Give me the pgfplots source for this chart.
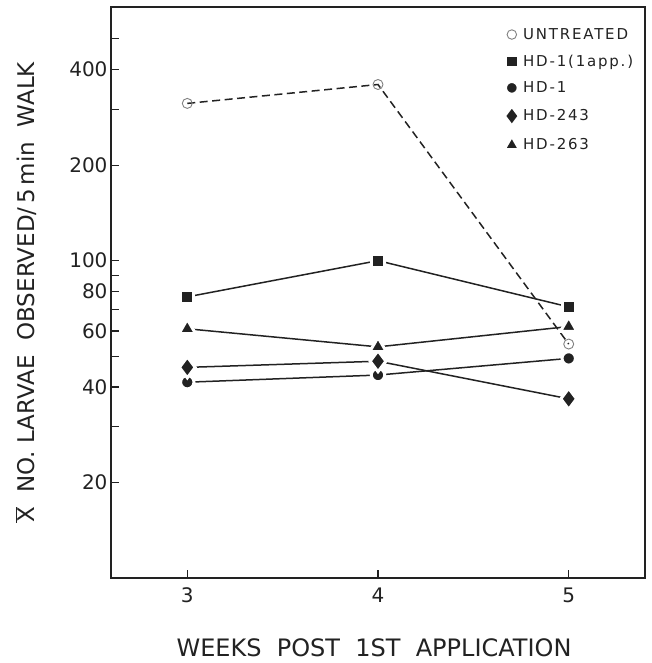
\documentclass[border=0pt]{standalone}
\usepackage{fontspec}
\setmainfont{DejaVu Sans}
\newfontfamily\legfont[LetterSpace=12]{DejaVu Sans}
\usepackage{pgfplots}
\pgfplotsset{compat=1.18}
\definecolor{ink}{HTML}{222222}

\begin{document}
\begin{tikzpicture}
\useasboundingbox (-111pt,-85pt) rectangle (541pt,578pt);
\begin{axis}[scale only axis,width=534pt,height=571pt,
  ymode=log,xmin=2.6,xmax=5.4,ymin=10,ymax=630,
  axis line style={ink,line width=1.5pt},
  tick style={ink,line width=1.2pt},tick align=inside,
  major tick length=8pt,minor tick length=8pt,
  xtick={3,4,5},
  ytick={20,40,60,80,100,200,400},
  yticklabels={20,40,60,80,100,200,400},
  minor ytick={30,50,70,90,300,500},
  xtick pos=bottom,ytick pos=left,
  /pgf/number format/assume math mode=true,
  ticklabel style={font=\fontsize{20}{23}\selectfont,text=ink},
  xticklabel style={yshift=-6pt},
  xlabel={WEEKS\ \ POST\ \ 1ST\ \ APPLICATION},
  ylabel={$\overline{\mbox{X}}$\ \ NO.\ LARVAE\ \ OBSERVED/\,5\,min\ \ WALK},
  xlabel style={font=\fontsize{24}{26}\selectfont,text=ink,
    at={(axis description cs:0.4925,-0.123)},anchor=center},
  ylabel style={font=\fontsize{23}{26}\selectfont,text=ink,
    at={(axis description cs:-0.159,0.5)},anchor=center},
  legend style={at={(0.73,0.970)},anchor=north west,draw=none,fill=none,
    font=\legfont\fontsize{15}{17}\selectfont,text=ink,row sep=10pt},
  legend cell align=left,
  legend image code/.code={\draw[only marks,every mark/.append style={scale=0.95}] plot coordinates {(0cm,0cm)};\path (-0.12cm,0cm) (0.3cm,0cm);},
  every axis plot/.append style={line width=1.5pt,ink},
]
\addplot[dashed,dash pattern=on 8pt off 4.5pt,mark=o,mark size=5pt,
  mark options={solid,draw=gray,line width=0.9pt}]
  coordinates {(3,313) (4,359) (5,54.6)};
\addlegendentry{UNTREATED}
\addplot[mark=square*,mark size=6.5pt,mark options={fill=ink,draw=white,line width=3pt}]
  coordinates {(3,76.9) (4,100) (5,71.5)};
\addlegendentry{HD-1(1app.)}
\addplot[mark=*,mark size=6.7pt,mark options={fill=ink,draw=white,line width=3pt}]
  coordinates {(3,41.4) (4,43.6) (5,49.2)};
\addlegendentry{HD-1}
\addplot[mark=diamond*,mark size=10.5pt,mark options={fill=ink,draw=white,line width=3pt}]
  coordinates {(3,46.1) (4,48.2) (5,36.7)};
\addlegendentry{HD-243}
\addplot[mark=triangle*,mark size=9.5pt,mark options={fill=ink,draw=white,line width=3pt}]
  coordinates {(3,61) (4,53.5) (5,62)};
\addlegendentry{HD-263}
\end{axis}
\end{tikzpicture}
\end{document}
